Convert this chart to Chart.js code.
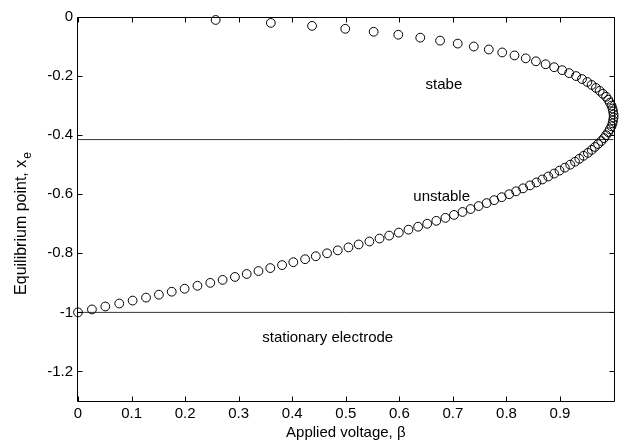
<!DOCTYPE html>
<html>
<head>
<meta charset="utf-8">
<script src="https://cdn.jsdelivr.net/npm/chart.js@4.4.1/dist/chart.umd.min.js"></script>
<style>
  html, body { margin: 0; padding: 0; background: #fff; }
  canvas { display: block; }
</style>
</head>
<body>
<canvas id="chart" width="619" height="443"></canvas>
<script>
const equilibriumPoints = [
  -0.01, -0.02, -0.03, -0.04, -0.05, -0.06, -0.07, -0.08, -0.09, -0.10,
  -0.11, -0.12, -0.13, -0.14, -0.15, -0.16, -0.17, -0.18, -0.19, -0.20,
  -0.21, -0.22, -0.23, -0.24, -0.25, -0.26, -0.27, -0.28, -0.29, -0.30,
  -0.31, -0.32, -0.33, -0.34, -0.35, -0.36, -0.37, -0.38, -0.39, -0.40,
  -0.41, -0.42, -0.43, -0.44, -0.45, -0.46, -0.47, -0.48, -0.49, -0.50,
  -0.51, -0.52, -0.53, -0.54, -0.55, -0.56, -0.57, -0.58, -0.59, -0.60,
  -0.61, -0.62, -0.63, -0.64, -0.65, -0.66, -0.67, -0.68, -0.69, -0.70,
  -0.71, -0.72, -0.73, -0.74, -0.75, -0.76, -0.77, -0.78, -0.79, -0.80,
  -0.81, -0.82, -0.83, -0.84, -0.85, -0.86, -0.87, -0.88, -0.89, -0.90,
  -0.91, -0.92, -0.93, -0.94, -0.95, -0.96, -0.97, -0.98, -0.99, -1.00
];

const appliedVoltage = [
  0.257, 0.360, 0.437, 0.499, 0.552, 0.598, 0.639, 0.676, 0.709, 0.739,
  0.767, 0.792, 0.815, 0.836, 0.855, 0.873, 0.889, 0.904, 0.917, 0.930,
  0.941, 0.951, 0.959, 0.967, 0.974, 0.980, 0.986, 0.990, 0.993, 0.996,
  0.998, 0.999, 1.000, 1.000, 0.999, 0.998, 0.996, 0.993, 0.990, 0.986,
  0.982, 0.977, 0.971, 0.965, 0.959, 0.952, 0.944, 0.936, 0.928, 0.919,
  0.909, 0.899, 0.889, 0.878, 0.867, 0.856, 0.844, 0.831, 0.818, 0.805,
  0.791, 0.777, 0.763, 0.748, 0.733, 0.718, 0.702, 0.686, 0.669, 0.652,
  0.635, 0.617, 0.599, 0.581, 0.563, 0.544, 0.524, 0.505, 0.485, 0.465,
  0.444, 0.424, 0.402, 0.381, 0.359, 0.337, 0.315, 0.293, 0.270, 0.247,
  0.223, 0.199, 0.175, 0.151, 0.127, 0.102, 0.077, 0.051, 0.026, 0.000
];

// horizontal reference lines
const levelLines = [-0.415, -1.0];

const xTicks = [0, 0.1, 0.2, 0.3, 0.4, 0.5, 0.6, 0.7, 0.8, 0.9];
const yTicks = [0, -0.2, -0.4, -0.6, -0.8, -1.0, -1.2];

const noteTexts = ["stabe", "unstable", "stationary electrode"];
const noteX = [0.649, 0.626, 0.344];
const noteY = [-0.23, -0.609, -1.085];

const FONT = '"Liberation Sans", Arial, sans-serif';

const points = appliedVoltage.map((b, i) => ({ x: b, y: equilibriumPoints[i] }));

const lineSets = levelLines.map((v) => ({
  type: "line",
  data: [{ x: 0, y: v }, { x: 1, y: v }],
  borderColor: "#333",
  borderWidth: 1,
  pointRadius: 0,
  fill: false,
}));

const framePlugin = {
  id: "frame",
  afterDraw(chart) {
    const ctx = chart.ctx;
    const xs = chart.scales.x;
    const ys = chart.scales.y;
    const a = chart.chartArea;
    const L = Math.round(a.left) - 0.5;
    const R = Math.round(a.right) + 0.5; // falls just outside the canvas
    const T = Math.round(a.top) + 0.5;
    const B = Math.round(a.bottom) + 0.5;
    ctx.save();
    ctx.strokeStyle = "#000";
    ctx.lineWidth = 1;
    ctx.beginPath();
    ctx.moveTo(L, T); ctx.lineTo(R, T);
    ctx.lineTo(R, B); ctx.lineTo(L, B);
    ctx.closePath();
    ctx.stroke();

    // inward ticks on all four sides
    ctx.beginPath();
    xTicks.forEach((v) => {
      const px = Math.round(xs.getPixelForValue(v)) + 0.5;
      ctx.moveTo(px, B); ctx.lineTo(px, B - 5);
      ctx.moveTo(px, T); ctx.lineTo(px, T + 5);
    });
    yTicks.forEach((v) => {
      const py = Math.round(ys.getPixelForValue(v)) + 0.5;
      ctx.moveTo(L, py); ctx.lineTo(L + 5, py);
      ctx.moveTo(R, py); ctx.lineTo(R - 5, py);
    });
    ctx.stroke();

    // text notes
    ctx.fillStyle = "#000";
    ctx.font = "15px " + FONT;
    ctx.textAlign = "left";
    ctx.textBaseline = "middle";
    noteTexts.forEach((t, i) => {
      ctx.fillText(t, xs.getPixelForValue(noteX[i]), ys.getPixelForValue(noteY[i]));
    });

    // x axis title
    ctx.textAlign = "center";
    ctx.textBaseline = "alphabetic";
    ctx.fillText("Applied voltage, \u03B2", (a.left + a.right) / 2, 437);

    // y axis title with subscript
    ctx.translate(26, 224);
    ctx.rotate(-Math.PI / 2);
    ctx.font = "16px " + FONT;
    const main = "Equilibrium point, x";
    const w1 = ctx.measureText(main).width;
    ctx.font = "12px " + FONT;
    const w2 = ctx.measureText("e").width;
    const start = -(w1 + w2) / 2;
    ctx.textAlign = "left";
    ctx.font = "16px " + FONT;
    ctx.fillText(main, start, 0);
    ctx.font = "12px " + FONT;
    ctx.fillText("e", start + w1 + 1, 5);
    ctx.restore();
  },
};

new Chart(document.getElementById("chart"), {
  type: "scatter",
  data: {
    datasets: [
      {
        data: points,
        showLine: false,
        pointStyle: "circle",
        pointRadius: 4.4,
        pointHoverRadius: 4.4,
        borderWidth: 1,
        borderColor: "#000",
        backgroundColor: "rgba(0,0,0,0)",
        clip: false,
      },
      ...lineSets,
    ],
  },
  options: {
    responsive: false,
    animation: false,
    devicePixelRatio: 1,
    layout: { padding: { top: 17, right: 0, left: 0, bottom: 0 } },
    plugins: {
      legend: { display: false },
      tooltip: { enabled: false },
    },
    scales: {
      x: {
        type: "linear",
        min: 0,
        max: 1,
        grid: { display: false, drawTicks: false },
        border: { display: false },
        afterBuildTicks: (s) => { s.ticks = xTicks.map((v) => ({ value: v })); },
        afterFit: (s) => { s.height = 42; },
        ticks: {
          padding: 4,
          color: "#000",
          font: { family: FONT, size: 15 },
          maxRotation: 0,
          callback: (v) => String(Math.round(v * 10) / 10),
        },
      },
      y: {
        type: "linear",
        min: -1.3,
        max: 0,
        grid: { display: false, drawTicks: false },
        border: { display: false },
        afterBuildTicks: (s) => { s.ticks = yTicks.map((v) => ({ value: v })); },
        afterFit: (s) => { s.width = 78; },
        ticks: {
          padding: 5,
          color: "#000",
          font: { family: FONT, size: 15 },
          callback: (v) => String(Math.round(v * 10) / 10),
        },
      },
    },
  },
  plugins: [framePlugin],
});
</script>
</body>
</html>
